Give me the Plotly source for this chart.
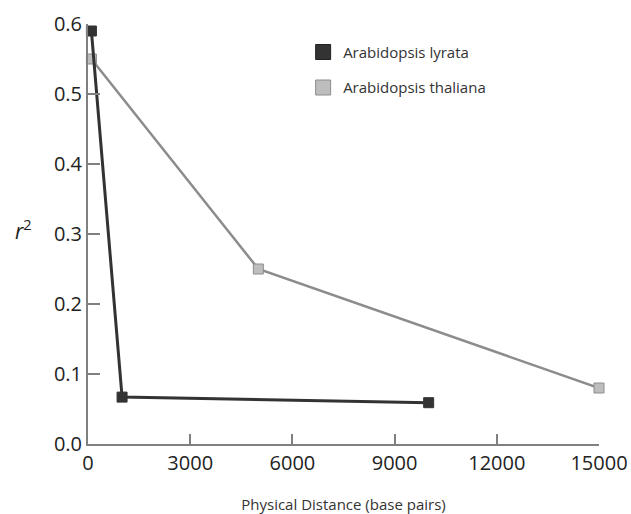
import plotly.graph_objects as go

# Data
lyrata_x = [100, 1000, 10000]
lyrata_r2 = [0.59, 0.067, 0.059]
thaliana_x = [100, 5000, 15000]
thaliana_r2 = [0.55, 0.25, 0.08]
series_names = ["Arabidopsis lyrata", "Arabidopsis thaliana"]
x_ticks = [0, 3000, 6000, 9000, 12000, 15000]
y_ticks = [0.0, 0.1, 0.2, 0.3, 0.4, 0.5, 0.6]

dark = "#333333"
light_line = "#8c8c8c"
light_fill = "#bdbdbd"
axis_col = "#808080"
font_fam = "Open Sans"

fig = go.Figure()

fig.add_trace(go.Scatter(
    x=thaliana_x, y=thaliana_r2, mode="lines+markers", showlegend=False,
    line=dict(color=light_line, width=2.5),
    marker=dict(symbol="square", size=10, color=light_fill, line=dict(color=light_line, width=1)),
    cliponaxis=False,
))
fig.add_trace(go.Scatter(
    x=lyrata_x, y=lyrata_r2, mode="lines+markers", showlegend=False,
    line=dict(color=dark, width=3),
    marker=dict(symbol="square", size=10, color=dark, line=dict(color=dark, width=1)),
    cliponaxis=False,
))

# Legend entries (markers only)
fig.add_trace(go.Scatter(
    x=[None], y=[None], mode="markers", name=series_names[0], legendgroup="a",
    marker=dict(symbol="square", size=15, color=dark, line=dict(color="#222222", width=1)),
))
fig.add_trace(go.Scatter(
    x=[None], y=[None], mode="markers", name=series_names[1], legendgroup="b",
    marker=dict(symbol="square", size=15, color=light_fill, line=dict(color=light_line, width=1)),
))

fig.update_layout(
    width=631, height=514,
    margin=dict(l=88, r=32, t=24, b=70, autoexpand=False),
    paper_bgcolor="white", plot_bgcolor="white",
    font=dict(family=font_fam, color="#222222"),
    legend=dict(
        x=0.421, y=0.972, xanchor="left", yanchor="top",
        font=dict(size=15, family=font_fam, color="#333333"),
        tracegroupgap=13, traceorder="grouped",
        bgcolor="rgba(0,0,0,0)", itemwidth=30,
    ),
    xaxis=dict(
        range=[0, 15000], tickvals=x_ticks, ticktext=[str(v) for v in x_ticks],
        showline=True, linecolor=axis_col, linewidth=2,
        ticks="inside", ticklen=10, tickwidth=1.5, tickcolor=axis_col,
        showgrid=False, zeroline=False, automargin=False,
        tickfont=dict(size=20, family=font_fam, color="#222222"),
        title=dict(text="Physical Distance (base pairs)", font=dict(size=15, family=font_fam, color="#333333"), standoff=24),
    ),
    yaxis=dict(
        range=[0, 0.6], tickvals=y_ticks, ticktext=["%.1f" % v for v in y_ticks],
        showline=True, linecolor=axis_col, linewidth=2,
        ticks="inside", ticklen=12, tickwidth=1.5, tickcolor=axis_col,
        showgrid=False, zeroline=False, automargin=False,
        tickfont=dict(size=20, family=font_fam, color="#222222"),
    ),
    annotations=[dict(
        text="<i>r</i><sup>2</sup>", xref="paper", yref="paper",
        x=-0.127, y=0.51, xanchor="center", yanchor="middle", showarrow=False,
        font=dict(size=21, family=font_fam, color="#222222"),
    )],
)

fig.write_html(
    "out.html",
    config={"displayModeBar": False},
    post_script="document.body.style.margin='0';document.body.style.overflow='hidden';",
)
